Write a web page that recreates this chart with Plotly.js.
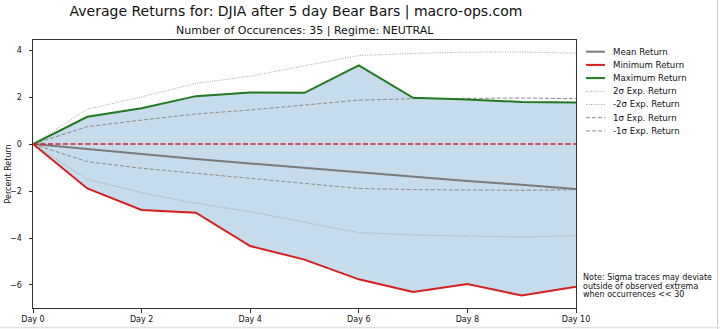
<!DOCTYPE html>
<html>
<head>
<meta charset="utf-8">
<script src="https://cdn.plot.ly/plotly-3.0.1.min.js"></script>
<style>html,body{margin:0;padding:0;background:#fff;}#chart{width:720px;height:329px;}</style>
</head>
<body>
<div id="chart"></div>
<script>
// ---- data ----
const days = [0, 1, 2, 3, 4, 5, 6, 7, 8, 9, 10];
const meanRet = [0, -0.22, -0.45, -0.64, -0.83, -1.02, -1.22, -1.41, -1.57, -1.73, -1.91];
const minRet  = [0, -1.89, -2.81, -2.92, -4.34, -4.92, -5.76, -6.30, -5.96, -6.45, -6.07];
const maxRet  = [0, 1.16, 1.52, 2.04, 2.20, 2.18, 3.35, 1.97, 1.90, 1.79, 1.77];
const sig2Up  = [0, 1.48, 2.01, 2.58, 2.89, 3.32, 3.77, 3.86, 3.91, 3.92, 3.87];
const sig2Dn  = [0, -1.50, -2.07, -2.52, -2.88, -3.32, -3.77, -3.87, -3.93, -3.96, -3.90];
const sig1Up  = [0, 0.74, 1.02, 1.28, 1.45, 1.65, 1.87, 1.93, 1.96, 1.96, 1.93];
const sig1Dn  = [0, -0.75, -1.03, -1.25, -1.46, -1.67, -1.89, -1.94, -1.97, -1.97, -1.94];
const xTickVals = [0, 2, 4, 6, 8, 10];
const xTickText = ['Day 0', 'Day 2', 'Day 4', 'Day 6', 'Day 8', 'Day 10'];
const yTickVals = [-6, -4, -2, 0, 2, 4];
const legendLabels = ['Mean Return', 'Minimum Return', 'Maximum Return', '2σ Exp. Return', '-2σ Exp. Return', '1σ Exp. Return', '-1σ Exp. Return'];
const noteLines = ['Note: Sigma traces may deviate', 'outside of observed extrema', 'when occurrences &lt;&lt; 30'];
const titleText = 'Average Returns for: DJIA after 5 day Bear Bars | macro-ops.com';
const subtitleText = 'Number of Occurences: 35 | Regime: NEUTRAL';

// ---- styles ----
const FONT = 'DejaVu Sans, Liberation Sans, sans-serif';
const C_MEAN = '#7a7a7a', C_MIN = '#d81e1e', C_MAX = '#1f7a1f', C_SIG = '#8a8a8a', C_SIG2 = '#a0a0a0';
const styles = [
  {color: C_MEAN, width: 2, dash: 'solid'},
  {color: C_MIN, width: 2, dash: 'solid'},
  {color: C_MAX, width: 2, dash: 'solid'},
  {color: C_SIG2, width: 1, dash: '1px,1.5px'},
  {color: C_SIG2, width: 1, dash: '1px,1.5px'},
  {color: C_SIG, width: 1, dash: '4px,2px'},
  {color: C_SIG, width: 1, dash: '4px,2px'}
];

// plot geometry (pixels)
const W = 720, H = 329, L = 33, R = 576, T = 40, B = 308;
const px2x = p => (p - L) / (R - L);
const px2y = p => (B - p) / (B - T);

const traces = [
  {x: days, y: minRet, mode: 'lines', line: {width: 0}, hoverinfo: 'skip', showlegend: false},
  {x: days, y: maxRet, mode: 'lines', line: {width: 0}, fill: 'tonexty', fillcolor: 'rgb(198,219,236)', hoverinfo: 'skip', showlegend: false},
  {x: days, y: sig2Up, name: legendLabels[3], mode: 'lines', line: styles[3]},
  {x: days, y: sig2Dn, name: legendLabels[4], mode: 'lines', line: styles[4]},
  {x: days, y: sig1Up, name: legendLabels[5], mode: 'lines', line: styles[5]},
  {x: days, y: sig1Dn, name: legendLabels[6], mode: 'lines', line: styles[6]},
  {x: days, y: meanRet, name: legendLabels[0], mode: 'lines', line: styles[0]},
  {x: days, y: minRet, name: legendLabels[1], mode: 'lines', line: styles[1]},
  {x: days, y: maxRet, name: legendLabels[2], mode: 'lines', line: styles[2]}
];
traces.forEach(t => t.showlegend = false);

const shapes = [
  {type: 'line', xref: 'paper', yref: 'y', x0: 0, x1: 1, y0: 0, y1: 0, line: {color: '#cf1f2a', width: 1.5, dash: '5px,2.5px'}},
  {type: 'line', xref: 'paper', yref: 'paper', x0: px2x(717.5), x1: px2x(717.5), y0: px2y(0), y1: px2y(329), line: {color: '#cfc6cf', width: 1}},
  {type: 'line', xref: 'paper', yref: 'paper', x0: px2x(0), x1: px2x(720), y0: px2y(327.5), y1: px2y(327.5), line: {color: '#e2e2e2', width: 1.5}}
];
const annotations = [
  {text: subtitleText, xref: 'paper', yref: 'paper', x: 0.5, y: px2y(30.5), xanchor: 'center', yanchor: 'middle', showarrow: false, font: {family: FONT, size: 11, color: '#111'}},
  {text: 'Percent Return', xref: 'paper', yref: 'paper', x: px2x(7.5), y: 0.5, xanchor: 'center', yanchor: 'middle', textangle: -90, showarrow: false, font: {family: FONT, size: 8, color: '#111'}}
];
legendLabels.forEach((lab, i) => {
  const yy = 51.7 + i * 13.2;
  shapes.push({type: 'line', xref: 'paper', yref: 'paper', x0: px2x(586), x1: px2x(605), y0: px2y(yy), y1: px2y(yy), line: styles[i]});
  annotations.push({text: lab, xref: 'paper', yref: 'paper', x: px2x(611), y: px2y(yy), xanchor: 'left', yanchor: 'middle', showarrow: false, font: {family: FONT, size: 8.6, color: '#111'}});
});
noteLines.forEach((ln, i) => {
  annotations.push({text: ln, xref: 'paper', yref: 'paper', x: px2x(581), y: px2y(277.5 + i * 8.5), xanchor: 'left', yanchor: 'middle', showarrow: false, font: {family: FONT, size: 8, color: '#111'}});
});

const layout = {
  width: W, height: H,
  margin: {l: L, r: W - R, t: T, b: H - B, pad: 0},
  paper_bgcolor: '#fff', plot_bgcolor: '#fff',
  showlegend: false,
  title: {text: titleText, xref: 'container', yref: 'container', x: 296 / W, y: 1 - 11.5 / H, xanchor: 'center', yanchor: 'middle', font: {family: FONT, size: 14, color: '#111'}},
  xaxis: {range: [0, 10], tickvals: xTickVals, ticktext: xTickText, showgrid: false, zeroline: false, showline: true, mirror: true, linecolor: '#333', linewidth: 1, ticks: 'outside', ticklen: 3.5, tickcolor: '#333', tickfont: {family: FONT, size: 8, color: '#111'}, fixedrange: true},
  yaxis: {range: [-6.98, 4.43], tickvals: yTickVals, showgrid: false, zeroline: false, showline: true, mirror: true, linecolor: '#333', linewidth: 1, ticks: 'outside', ticklen: 3.5, tickcolor: '#333', tickfont: {family: FONT, size: 8, color: '#111'}, ticklabelstandoff: 5, fixedrange: true},
  shapes: shapes,
  annotations: annotations
};

Plotly.newPlot('chart', traces, layout, {displayModeBar: false, staticPlot: true});
</script>
</body>
</html>
